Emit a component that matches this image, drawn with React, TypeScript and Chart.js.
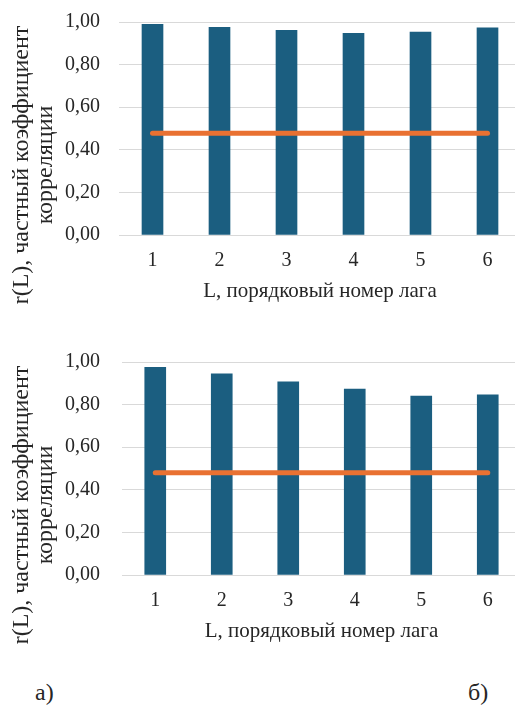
import React, { useEffect, useRef } from "react";
import { Chart, registerables } from "chart.js";

Chart.register(...registerables);

const lags = ["1", "2", "3", "4", "5", "6"];
const valuesA = [0.989, 0.975, 0.961, 0.947, 0.953, 0.973];
const valuesB = [0.975, 0.944, 0.907, 0.873, 0.84, 0.846];
const criticalA = [0.478, 0.478, 0.478, 0.478, 0.478, 0.478];
const criticalB = [0.48, 0.48, 0.48, 0.48, 0.48, 0.48];
const yTickLabels = ["0,00", "0,20", "0,40", "0,60", "0,80", "1,00"];
const yTitleLines = ["r(L), частный коэффициент", "корреляции"];
const xTitle = "L, порядковый номер лага";

const SERIF = "'Liberation Serif', 'Times New Roman', serif";
const BAR_COLOR = "#1B5E80";
const LINE_COLOR = "#E97132";
const GRID_COLOR = "#D9D9D9";
const TEXT_COLOR = "#262626";

const CANVAS_W = 522;
const CANVAS_H = 330;
const AREA_TOP = 22;
const AREA_BOTTOM = 235;
const TICK_LEFT = 65;

type PanelProps = {
  values: number[];
  critical: number[];
  plotLeft: number;
  top: number;
};

function Panel({ values, critical, plotLeft, top }: PanelProps) {
  const ref = useRef<HTMLCanvasElement | null>(null);

  useEffect(() => {
    if (!ref.current) return;
    const yTitlePlugin = {
      id: "yTitle",
      afterDraw(chart: any) {
        const ctx = chart.ctx;
        ctx.save();
        ctx.fillStyle = TEXT_COLOR;
        ctx.font = `24px ${SERIF}`;
        ctx.textAlign = "center";
        ctx.textBaseline = "middle";
        const cy = 165;
        yTitleLines.forEach((line, i) => {
          ctx.save();
          ctx.translate(22 + i * 24, cy);
          ctx.rotate(-Math.PI / 2);
          ctx.fillText(line, 0, 0);
          ctx.restore();
        });
        ctx.restore();
      },
    };

    const padding = { top: AREA_TOP, right: 1, left: TICK_LEFT, bottom: 0 };

    const chart = new Chart(ref.current, {
      type: "bar",
      data: {
        labels: lags,
        datasets: [
          {
            type: "line",
            data: critical,
            borderColor: LINE_COLOR,
            backgroundColor: LINE_COLOR,
            borderWidth: 5,
            borderCapStyle: "round",
            pointRadius: 0,
            pointHoverRadius: 0,
            fill: false,
            tension: 0,
          } as any,
          {
            type: "bar",
            data: values,
            backgroundColor: BAR_COLOR,
            borderWidth: 0,
            barThickness: 21,
          } as any,
        ],
      },
      options: {
        responsive: false,
        animation: false,
        devicePixelRatio: 1,
        layout: { padding },
        plugins: {
          legend: { display: false },
          tooltip: { enabled: false },
        },
        scales: {
          x: {
            offset: true,
            grid: { display: false, drawTicks: false },
            border: { display: false },
            ticks: {
              color: TEXT_COLOR,
              font: { family: SERIF, size: 20 },
              padding: 14,
            },
            title: {
              display: true,
              text: xTitle,
              color: TEXT_COLOR,
              font: { family: SERIF, size: 21 },
              padding: { top: 0, bottom: 26 },
            },
            afterFit: (s: any) => {
              s.height = CANVAS_H - AREA_BOTTOM;
            },
          },
          y: {
            min: 0,
            max: 1,
            grid: { color: GRID_COLOR, lineWidth: 1, drawTicks: false },
            border: { display: false },
            ticks: {
              stepSize: 0.2,
              color: TEXT_COLOR,
              font: { family: SERIF, size: 20 },
              padding: 0,
              crossAlign: "far",
              callback: (_v: any, i: number) => yTickLabels[i],
            },
            afterFit: (s: any) => {
              s.width = plotLeft - TICK_LEFT;
            },
          },
        },
      },
      plugins: [yTitlePlugin],
    });

    // correct the plot area so that it sits exactly where the reference has it
    for (let k = 0; k < 3; k++) {
      const area = chart.chartArea;
      const dTop = area.top - AREA_TOP;
      const dBottom = area.bottom - AREA_BOTTOM;
      if (Math.abs(dTop) < 0.5 && Math.abs(dBottom) < 0.5) break;
      padding.top = padding.top - dTop;
      padding.bottom = padding.bottom + dBottom;
      (chart.options as any).layout.padding = { ...padding };
      chart.update();
    }

    return () => chart.destroy();
  }, [values, critical, plotLeft]);

  return (
    <canvas
      ref={ref}
      width={CANVAS_W}
      height={CANVAS_H}
      style={{ position: "absolute", left: 0, top, width: CANVAS_W, height: CANVAS_H }}
    />
  );
}

export default function App() {
  return (
    <div
      style={{
        position: "absolute",
        left: 0,
        top: 0,
        width: 515,
        height: 706,
        overflow: "hidden",
        background: "#ffffff",
      }}
    >
      <Panel values={valuesA} critical={criticalA} plotLeft={119} top={0} />
      <Panel values={valuesB} critical={criticalB} plotLeft={122} top={340} />
      <div
        style={{
          position: "absolute",
          left: 35,
          top: 678,
          fontFamily: SERIF,
          fontSize: 24,
          lineHeight: "28px",
          color: TEXT_COLOR,
        }}
      >
        а)
      </div>
      <div
        style={{
          position: "absolute",
          left: 468,
          top: 678,
          fontFamily: SERIF,
          fontSize: 24,
          lineHeight: "28px",
          color: TEXT_COLOR,
        }}
      >
        б)
      </div>
    </div>
  );
}
